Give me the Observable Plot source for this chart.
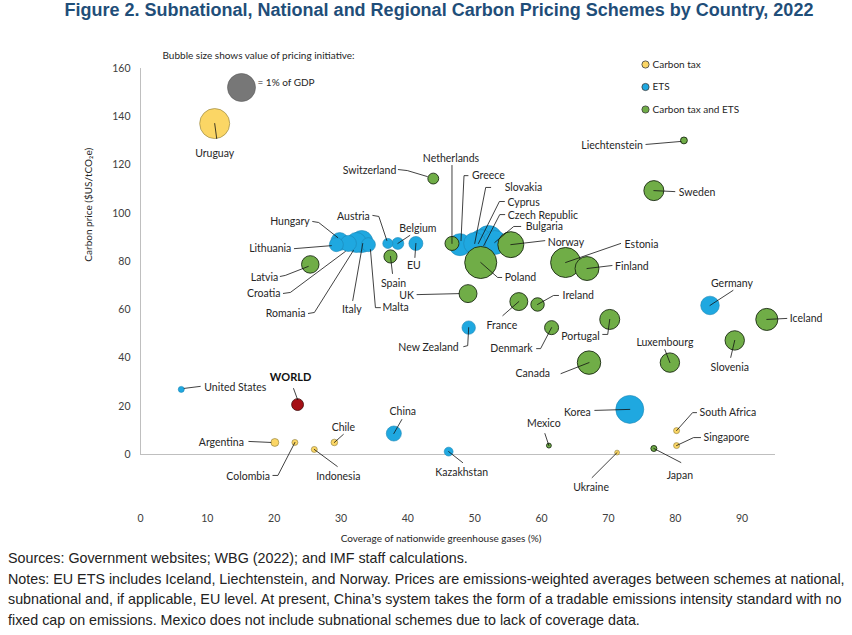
<!DOCTYPE html>
<html><head><meta charset="utf-8">
<script src="https://cdn.jsdelivr.net/npm/d3@7"></script>
<script src="https://cdn.jsdelivr.net/npm/@observablehq/plot@0.6"></script>
<style>
body{margin:0;background:#fff;width:852px;overflow:hidden;}
#title{height:36px;line-height:34px;text-align:center;font:bold 18px "Liberation Sans",Arial,sans-serif;color:#1f4e79;padding-left:26px;white-space:nowrap;}
#chart svg{display:block;}
#notes{font:14.3px "Liberation Sans",Arial,sans-serif;color:#222;line-height:20.5px;padding-left:8px;margin-top:2px;white-space:nowrap;}
</style></head><body>
<div id="title">Figure 2. Subnational, National and Regional Carbon Pricing Schemes by Country, 2022</div>
<div id="chart"></div>
<div id="notes">Sources: Government websites; WBG (2022); and IMF staff calculations.<br>Notes: EU ETS includes Iceland, Liechtenstein, and Norway. Prices are emissions-weighted averages between schemes at national,<br>subnational and, if applicable, EU level. At present, China’s system takes the form of a tradable emissions intensity standard with no<br>fixed cap on emissions. Mexico does not include subnational schemes due to lack of coverage data.</div>
<script>
// ---- data ----
const countries = ["Uruguay","Switzerland","Liechtenstein","Sweden","Netherlands","Greece","Slovakia","Cyprus","Czech Republic","Bulgaria","Norway","Poland","Estonia","Finland","Hungary","Lithuania","Croatia","Romania","Italy","Malta","Latvia","Austria","Belgium","EU","Spain","UK","France","Ireland","Denmark","Portugal","Canada","Luxembourg","Slovenia","Iceland","Germany","New Zealand","Korea","South Africa","Singapore","Japan","Ukraine","Mexico","Kazakhstan","China","Chile","Indonesia","Colombia","Argentina","United States","WORLD"];
const coverage = [11.1,43.8,81.3,76.8,46.6,47.8,50.0,51.0,52.1,53.0,55.4,50.9,63.6,66.8,29.8,29.3,31.1,32.3,33.1,34.1,25.4,37.0,38.5,41.2,37.4,49.0,56.6,59.4,61.5,70.2,67.1,79.2,88.9,93.7,85.2,49.1,73.2,80.2,80.2,76.8,71.3,61.1,46.1,37.9,29.0,26.0,23.1,20.1,6.1,23.5];
const price = [137.2,114.4,130.2,109.4,87.5,87.0,87.5,88.3,89.1,87.9,87.0,79.6,79.6,77.1,88.3,87.0,87.5,87.9,88.3,87.0,78.8,87.5,87.5,87.5,82.1,66.7,63.4,62.2,52.6,56.0,38.1,38.1,47.3,56.0,61.8,52.6,18.7,9.9,3.7,2.5,0.8,3.7,1.2,8.7,5.0,2.1,5.0,5.0,27.0,20.7];
const gdpShare = [1.15,0.15,0.06,0.51,0.25,0.62,0.62,0.73,1.0,0.73,0.86,1.31,1.15,0.73,0.41,0.25,0.33,0.51,0.62,0.25,0.39,0.13,0.18,0.25,0.22,0.41,0.41,0.23,0.25,0.51,0.70,0.48,0.48,0.62,0.44,0.23,1.0,0.046,0.046,0.046,0.03,0.03,0.10,0.29,0.056,0.046,0.046,0.08,0.046,0.18];
const scheme = ["tax","both","both","both","both","ets","ets","ets","ets","ets","both","both","both","both","ets","ets","ets","ets","ets","ets","both","ets","ets","ets","both","both","both","both","both","both","both","both","both","both","ets","ets","ets","tax","tax","both","tax","both","ets","ets","tax","tax","tax","tax","ets","world"];
const xTicks = [0,10,20,30,40,50,60,70,80,90];
const yTicks = [0,20,40,60,80,100,120,140,160];
const legendLabels = ["Carbon tax","ETS","Carbon tax and ETS"];

// ---- annotation layout (pixel offsets from bubble centre) ----
const labelLayout = {
 "Uruguay":["middle",[0,30],[[0,0],[2,15]]],
 "Switzerland":["end",[-37,-8],[[-35,-9],[-26,-8],[-6,-2]]],
 "Netherlands":["middle",[-1,-85],[[0,-78],[0,0]]],
 "Greece":["start",[12,-69],[[1,-4],[4,-69],[8,-69]]],
 "Slovakia":["start",[30,-56],[[0,0],[11,-56],[16,-56]]],
 "Cyprus":["start",[26,-39],[[-3,2],[18,-40],[23,-40]]],
 "Czech Republic":["start",[19,-24],[[-5,6],[11,-25],[16,-25]]],
 "Bulgaria":["start",[31,-16],[[0,0],[19,-16],[26,-16]]],
 "Norway":["start",[37,-2],[[0,0],[34,-4]]],
 "Poland":["start",[24,15],[[0,0],[17,15],[21,15]]],
 "Estonia":["start",[59,-18],[[0,0],[55,-19]]],
 "Finland":["start",[28,-2],[[0,0],[25,-3]]],
 "Liechtenstein":["end",[-41,5],[[-38,4],[-3,1]]],
 "Sweden":["start",[25,2],[[0,0],[21,1]]],
 "Germany":["middle",[22,-22],[[0,0],[23,-15]]],
 "Iceland":["start",[23,-1],[[0,0],[20,-1]]],
 "Slovenia":["middle",[-5,27],[[0,0],[-4,17]]],
 "Luxembourg":["middle",[-5,-20],[[-5,-13],[0,0]]],
 "Portugal":["end",[-10,17],[[0,0],[-2,15],[-7,15]]],
 "Canada":["end",[-39,11],[[-28,11],[0,0]]],
 "Denmark":["end",[-19,21],[[-15,21],[-11,21],[0,0]]],
 "Ireland":["start",[25,-9],[[0,0],[16,-9],[21,-9]]],
 "France":["middle",[-17,24],[[0,0],[-16,14]]],
 "UK":["end",[-54,2],[[-51,1],[-9,0]]],
 "New Zealand":["end",[-10,20],[[0,0],[-1,18],[-5,19]]],
 "Korea":["end",[-39,3],[[-35,1],[0,0]]],
 "South Africa":["start",[23,-18],[[0,0],[16,-18],[20,-18]]],
 "Singapore":["start",[27,-8],[[0,0],[17,-8],[24,-8]]],
 "Japan":["middle",[26,27],[[0,0],[27,14]]],
 "Ukraine":["middle",[-26,35],[[0,0],[-25,25]]],
 "Mexico":["middle",[-5,-22],[[-4,-12],[0,0]]],
 "Kazakhstan":["middle",[13,21],[[0,0],[14,11]]],
 "China":["middle",[9,-22],[[0,0],[8,-14]]],
 "Chile":["middle",[9,-15],[[0,0],[9,-8]]],
 "Indonesia":["middle",[24,27],[[0,0],[23,17]]],
 "Colombia":["end",[-25,34],[[0,0],[-17,33],[-22,33]]],
 "Argentina":["end",[-31,0],[[-26,-1],[-4,0]]],
 "WORLD":["middle",[-7,-27],[[-4,-16],[0,-5]]],
 "United States":["start",[23,-2],[[3,-1],[19,-3]]],
 "Hungary":["end",[-30,-20],[[-27,-20],[-21,-19],[-2,-4]]],
 "Lithuania":["end",[-45,4],[[-42,4],[-5,1]]],
 "Latvia":["end",[-32,13],[[-30,12],[-25,11],[-2,2]]],
 "Croatia":["end",[-68,50],[[-65,50],[-58,49],[-3,8]]],
 "Romania":["end",[-51,71],[[-48,71],[-42,70],[-3,8]]],
 "Italy":["middle",[-10,68],[[-9,59],[1,2]]],
 "Malta":["start",[14,63],[[2,5],[7,63],[12,63]]],
 "Austria":["end",[-18,-27],[[-15,-28],[-9,-27],[-1,-3]]],
 "Belgium":["middle",[20,-15],[[0,0],[12,-8]]],
 "EU":["middle",[-2,22],[[0,0],[-1,14]]],
 "Spain":["middle",[3,27],[[0,0],[2,17]]]
};

const W = 852, H = 510;
const mL = 140, mR = 77, mT = 20, mB = 43.75;
const xDomain = [0,95], yDomain = [-20,165];
const xs = Plot.scale({x:{domain:xDomain, range:[mL, W-mR]}});
const ys = Plot.scale({y:{domain:yDomain, range:[H-mB, mT]}});

const rows = countries.map((name,i)=>({name, x:coverage[i], y:price[i], v:gdpShare[i], s:scheme[i]}));
const shift = (d,[dx,dy]) => ({x: xs.invert(xs.apply(d.x)+dx), y: ys.invert(ys.apply(d.y)+dy)});

const labels = rows.map(d=>{const L=labelLayout[d.name]; return {name:d.name, anchor:L[0], ...shift(d,L[1])};});
const leaders = rows.flatMap(d=>labelLayout[d.name][2].map((p,k)=>({name:d.name, k, ...shift(d,p)})));

const fontFam = "Lato, 'Open Sans', sans-serif";
const txtCol = "#262626";
const styles = {
  tax:{fill:"#fbd665", stroke:"#8a7a3a", strokeWidth:0.6},
  ets:{fill:"#1fa8e0", stroke:"#1c86b5", strokeWidth:0.6},
  both:{fill:"#70ad47", stroke:"#1a2a12", strokeWidth:0.9},
  world:{fill:"#a50f15", stroke:"#3d0606", strokeWidth:0.8}
};
const dotMark = s => Plot.dot(rows.filter(d=>d.s===s), {x:"x", y:"y", r:"v", ...styles[s]});
const textMark = a => Plot.text(labels.filter(d=>d.anchor===a && d.name!=="WORLD"), {x:"x", y:"y", text:"name", textAnchor:a, lineAnchor:"middle", fill:txtCol, fontSize:10.5});

const legendKeys = ["tax","ets","both"];
const legendMarks = legendLabels.flatMap((lab,i)=>[
  Plot.dot([lab], {frameAnchor:"top-left", dx:505, dy:8+22.5*i, r:3.6, fill:styles[legendKeys[i]].fill, stroke:"#3a3a3a", strokeWidth:0.8}),
  Plot.text([lab], {frameAnchor:"top-left", dx:512, dy:8+22.5*i, text:d=>d, textAnchor:"start", lineAnchor:"middle", fill:txtCol, fontSize:10})
]);

const chart = Plot.plot({
  width: W, height: H,
  marginLeft: mL, marginRight: mR, marginTop: mT, marginBottom: mB,
  style:{fontFamily:fontFam, fontSize:"10.5px", color:txtCol, background:"#fff"},
  x:{domain:xDomain},
  y:{domain:yDomain},
  r:{type:"sqrt", domain:[0,1], range:[0,14]},
  marks:[
    Plot.ruleY([0], {stroke:"#bfbfbf", strokeWidth:1}),
    Plot.ruleX([0], {y1:0, y2:160, stroke:"#bfbfbf", strokeWidth:1}),
    Plot.axisY(yTicks, {tickSize:0, tickPadding:10, label:null, fill:"#404040", fontSize:10.5}),
    Plot.axisX(xTicks, {tickSize:0, tickPadding:12, label:null, fill:"#404040", fontSize:10.5}),
    Plot.text(["Coverage of nationwide greenhouse gases (%)"], {frameAnchor:"bottom", dx:-17, dy:36, text:d=>d, fill:txtCol, fontSize:10, lineAnchor:"middle"}),
    Plot.text(["Carbon price ($US/tCO₂e)"], {frameAnchor:"left", dx:-52, dy:-18, rotate:-90, text:d=>d, fill:txtCol, fontSize:10, lineAnchor:"middle"}),
    Plot.text(["Bubble size shows value of pricing initiative:"], {frameAnchor:"top-left", dx:22, dy:-1, text:d=>d, textAnchor:"start", lineAnchor:"middle", fill:txtCol, fontSize:10}),
    Plot.dot([1], {frameAnchor:"top-left", dx:101, dy:31, r:d=>d, fill:"#777777", stroke:"#5a5a5a", strokeWidth:0.6}),
    Plot.text(["= 1% of GDP"], {frameAnchor:"top-left", dx:117, dy:26, text:d=>d, textAnchor:"start", lineAnchor:"middle", fill:txtCol, fontSize:10}),
    ...legendMarks,
    dotMark("tax"), dotMark("ets"), dotMark("both"), dotMark("world"),
    Plot.line(leaders, {x:"x", y:"y", z:"name", stroke:"#111", strokeWidth:0.8, curve:"linear"}),
    textMark("start"), textMark("middle"), textMark("end"),
    Plot.text(labels.filter(d=>d.name==="WORLD"), {x:"x", y:"y", text:"name", textAnchor:"middle", lineAnchor:"middle", fill:"#111", fontSize:11, fontWeight:"bold"})
  ]
});
document.getElementById("chart").appendChild(chart);
</script>
</body></html>
